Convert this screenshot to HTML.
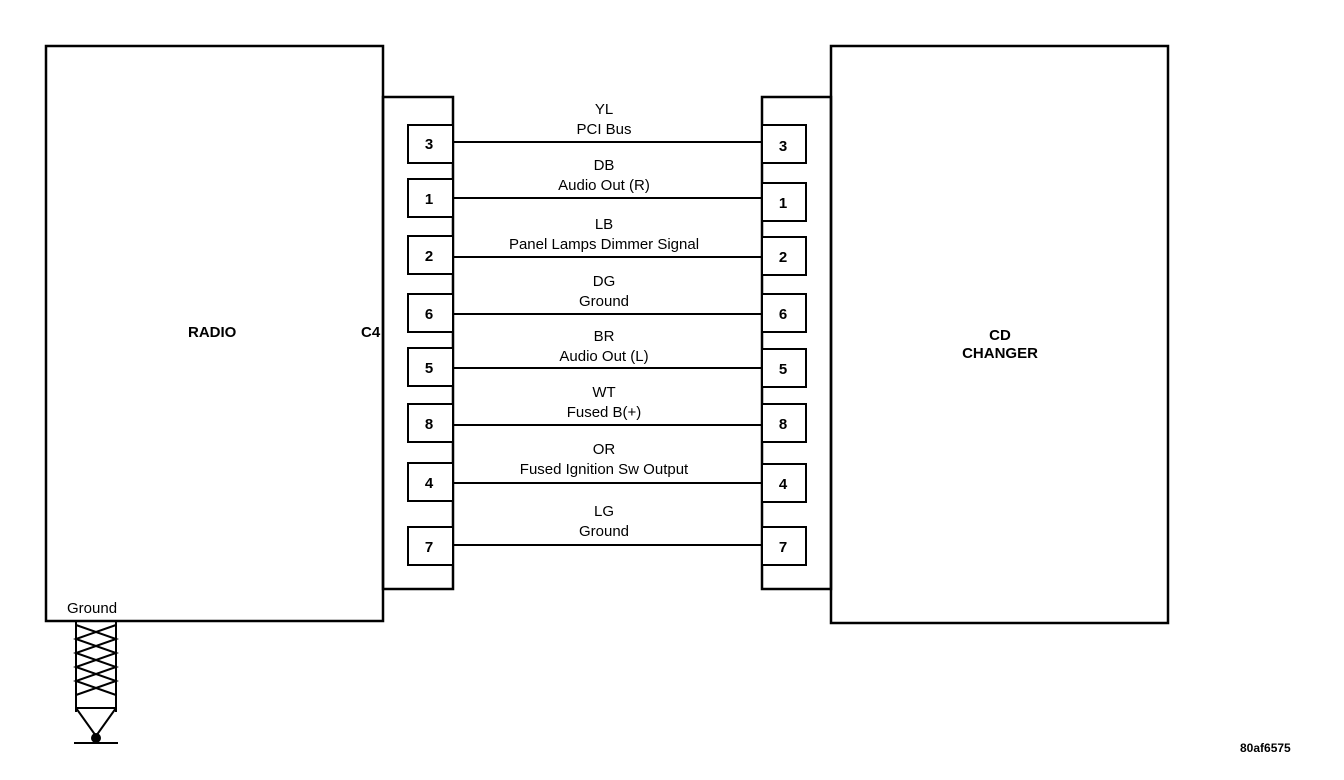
<!DOCTYPE html>
<html><head><meta charset="utf-8"><style>
html,body{margin:0;padding:0;background:#fff;}
svg{display:block;}
text{font-family:"Liberation Sans",Arial,sans-serif;font-size:15px;fill:#000;}
.b{font-weight:bold;}
</style></head><body>
<svg width="1344" height="780" viewBox="0 0 1344 780" xmlns="http://www.w3.org/2000/svg">
<g fill="none" stroke="#000" stroke-width="2.5">
<rect x="46" y="46" width="337" height="575"/>
<rect x="383" y="97" width="70" height="492"/>
<rect x="831" y="46" width="337" height="577"/>
<rect x="762" y="97" width="69" height="492"/>
</g>
<g fill="#fff" stroke="#000" stroke-width="2">
<rect x="408" y="125" width="45" height="38"/>
<rect x="408" y="179" width="45" height="38"/>
<rect x="408" y="236" width="45" height="38"/>
<rect x="408" y="294" width="45" height="38"/>
<rect x="408" y="348" width="45" height="38"/>
<rect x="408" y="404" width="45" height="38"/>
<rect x="408" y="463" width="45" height="38"/>
<rect x="408" y="527" width="45" height="38"/>
<rect x="762" y="125" width="44" height="38"/>
<rect x="762" y="183" width="44" height="38"/>
<rect x="762" y="237" width="44" height="38"/>
<rect x="762" y="294" width="44" height="38"/>
<rect x="762" y="349" width="44" height="38"/>
<rect x="762" y="404" width="44" height="38"/>
<rect x="762" y="464" width="44" height="38"/>
<rect x="762" y="527" width="44" height="38"/>
</g>
<g stroke="#000" stroke-width="2">
<line x1="453" y1="142" x2="762" y2="142"/>
<line x1="453" y1="198" x2="762" y2="198"/>
<line x1="453" y1="257" x2="762" y2="257"/>
<line x1="453" y1="314" x2="762" y2="314"/>
<line x1="453" y1="368" x2="762" y2="368"/>
<line x1="453" y1="425" x2="762" y2="425"/>
<line x1="453" y1="483" x2="762" y2="483"/>
<line x1="453" y1="545" x2="762" y2="545"/>
</g>
<g class="b" text-anchor="middle">
<text x="429" y="149">3</text><text x="429" y="204">1</text><text x="429" y="261">2</text><text x="429" y="319">6</text>
<text x="429" y="373">5</text><text x="429" y="429">8</text><text x="429" y="488">4</text><text x="429" y="552">7</text>
<text x="783" y="151">3</text><text x="783" y="208">1</text><text x="783" y="262">2</text><text x="783" y="319">6</text>
<text x="783" y="374">5</text><text x="783" y="429">8</text><text x="783" y="489">4</text><text x="783" y="552">7</text>
</g>
<g text-anchor="middle">
<text x="604" y="114">YL</text><text x="604" y="134">PCI Bus</text>
<text x="604" y="170">DB</text><text x="604" y="190">Audio Out (R)</text>
<text x="604" y="229">LB</text><text x="604" y="249">Panel Lamps Dimmer Signal</text>
<text x="604" y="286">DG</text><text x="604" y="306">Ground</text>
<text x="604" y="341">BR</text><text x="604" y="361">Audio Out (L)</text>
<text x="604" y="397">WT</text><text x="604" y="417">Fused B(+)</text>
<text x="604" y="454">OR</text><text x="604" y="474">Fused Ignition Sw Output</text>
<text x="604" y="516">LG</text><text x="604" y="536">Ground</text>
</g>
<text class="b" x="188" y="337">RADIO</text>
<text class="b" x="361" y="337">C4</text>
<text class="b" x="1000" y="340" text-anchor="middle">CD</text>
<text class="b" x="1000" y="358" text-anchor="middle">CHANGER</text>
<text x="67" y="613">Ground</text>
<text class="b" x="1240" y="752" style="font-size:12px">80af6575</text>
<g stroke="#000" stroke-width="2" fill="none">
<line x1="76" y1="621" x2="76" y2="712"/>
<line x1="116" y1="621" x2="116" y2="712"/>
<polyline points="76,625 116,639 76,653 116,667 76,681 116,695"/>
<polyline points="116,625 76,639 116,653 76,667 116,681 76,695"/>
<line x1="76" y1="708" x2="116" y2="708"/>
<polyline points="76,708 96,736 116,708"/>
<line x1="74" y1="743" x2="118" y2="743"/>
</g>
<circle cx="96" cy="738" r="5" fill="#000"/>
</svg>
</body></html>
